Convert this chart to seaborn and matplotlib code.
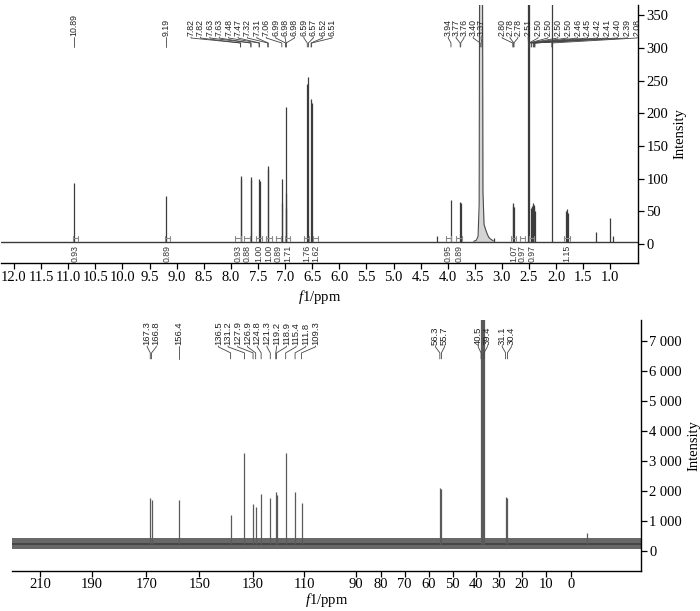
import numpy as np
import pandas as pd
import seaborn as sns
import matplotlib
matplotlib.use("Agg")
import matplotlib.pyplot as plt
from matplotlib.transforms import blended_transform_factory

# ---------------- 1H NMR ----------------
h_peak_ppm = [10.89, 9.19, 7.82, 7.815, 7.63, 7.625, 7.48, 7.47, 7.32, 7.31,
              7.065, 7.055, 6.99, 6.98, 6.975, 6.59, 6.57, 6.52, 6.51,
              4.20, 3.94, 3.77, 3.76, 3.15, 2.80, 2.79, 2.78,
              2.51, 2.50, 2.46, 2.45, 2.42, 2.41, 2.40, 2.39, 2.08,
              1.82, 1.80, 1.78, 1.27, 1.00, 0.95]
h_peak_int = [93, 73, 104, 100, 102, 98, 99, 96, 119, 115,
              100, 62, 78, 209, 55, 245, 255, 222, 215,
              12, 67, 65, 63, 9, 58, 62, 57,
              600, 600, 55, 58, 62, 60, 56, 50, 600,
              50, 54, 48, 18, 40, 12]
h_baseline = 3
water_ppm = [3.52, 3.47, 3.44, 3.42, 3.41, 3.40, 3.38, 3.36, 3.35, 3.33, 3.30, 3.27, 3.24, 3.20, 3.16]
water_int = [4, 6, 12, 60, 500, 600, 600, 500, 80, 30, 22, 15, 10, 7, 5]

h_label_groups = [["10.89"], ["9.19"],
                  ["7.82", "7.82", "7.63", "7.63", "7.48", "7.47", "7.32", "7.31",
                   "7.06", "6.99", "6.98", "6.98", "6.59", "6.57", "6.52", "6.51"],
                  ["3.94", "3.77", "3.76"], ["3.40", "3.37"], ["2.80", "2.78", "2.78"],
                  ["2.51", "2.50", "2.50", "2.50", "2.50", "2.46", "2.45", "2.42",
                   "2.41", "2.40", "2.39", "2.08"]]
h_integral_ppm = [10.87, 9.17, 7.87, 7.70, 7.48, 7.30, 7.12, 6.95, 6.60, 6.44,
                  3.99, 3.79, 2.79, 2.62, 2.45, 1.80]
h_integral_val = ["0.93", "0.89", "0.93", "0.88", "1.00", "1.00", "0.89", "1.71", "1.76", "1.62",
                  "0.95", "0.89", "1.07", "0.97", "0.97", "1.15"]
h_ticks = [12.0, 11.5, 11.0, 10.5, 10.0, 9.5, 9.0, 8.5, 8.0, 7.5, 7.0, 6.5, 6.0,
           5.5, 5.0, 4.5, 4.0, 3.5, 3.0, 2.5, 2.0, 1.5, 1.0]
h_yticks = [0, 50, 100, 150, 200, 250, 300, 350]

# ---------------- 13C NMR ----------------
c_peak_ppm = [167.3, 166.8, 156.4, 136.5, 131.2, 127.9, 126.9, 124.8, 121.3, 119.2,
              118.9, 115.4, 111.8, 109.3, 56.3, 55.7,
              40.4, 40.0, 39.6, 39.2, 31.1, 30.4, 0.0]
c_peak_int = [1750, 1700, 1700, 1200, 3250, 1550, 1450, 1900, 1750, 1950,
              1850, 3250, 1950, 1600, 2100, 2050,
              8000, 8000, 8000, 8000, 1800, 1780, 600]
c_noise_low, c_noise_high, c_noise_mid = 60, 420, 230
c_label_groups = [["167.3", "166.8"], ["156.4"],
                  ["136.5", "131.2", "127.9", "126.9", "124.8", "121.3", "119.2",
                   "118.9", "115.4", "111.8", "109.3"],
                  ["56.3", "55.7"], ["40.5", "39.4"], ["31.1", "30.4"]]
c_tick_labels = ["210", "190", "170", "150", "130", "110", "90", "80", "70", "60",
                 "50", "40", "30", "20", "10", "0"]
c_tick_pos = [209.5, 189.6, 168.8, 148.5, 128.1, 108.2, 88.6, 79.0, 69.8, 60.6,
              51.4, 42.5, 33.7, 24.9, 15.7, 6.1]
c_yticks = [0, 1000, 2000, 3000, 4000, 5000, 6000, 7000]
c_ytick_labels = ["0", "1 000", "2 000", "3 000", "4 000", "5 000", "6 000", "7 000"]

# ---------------- style ----------------
sns.set_theme(style="ticks")
plt.rcParams['font.family'] = ['Liberation Serif', 'DejaVu Serif']
plt.rcParams['mathtext.fontset'] = 'custom'
plt.rcParams['mathtext.rm'] = 'Liberation Serif'
plt.rcParams['mathtext.it'] = 'Liberation Serif:italic'
SANS = ['Liberation Sans', 'DejaVu Sans']
TICKFS = 10.5

fig = plt.figure(figsize=(7.0, 6.11), dpi=100)
ax1 = fig.add_axes([1 / 700, 1 - 263 / 611, 637 / 700, 258 / 611])
ax2 = fig.add_axes([12 / 700, 1 - 571 / 611, 629 / 700, 251 / 611])


def style_axes(ax, xpad=3, tickpad=2):
    for s in ['left', 'top']:
        ax.spines[s].set_visible(False)
    for s in ['right', 'bottom']:
        ax.spines[s].set_color('black')
        ax.spines[s].set_linewidth(1.0)
    ax.yaxis.tick_right()
    ax.yaxis.set_label_position('right')
    ax.tick_params(axis='both', direction='out', length=4, width=0.9, color='black',
                   labelsize=TICKFS, labelcolor='black', pad=2)
    ax.tick_params(axis='x', pad=tickpad)
    ax.set_ylabel('Intensity', fontsize=TICKFS, color='black', labelpad=4)
    ax.set_xlabel(r'$\mathit{f}$1/ppm', fontsize=TICKFS, color='black', labelpad=xpad)


def draw_labels(ax, groups, starts, spacings, ys, fs, color='#444444'):
    tr = blended_transform_factory(ax.transData, ax.transAxes)
    yt, y1, y2, y3 = ys
    for labels, start, sp in zip(groups, starts, spacings):
        for i, lab in enumerate(labels):
            xp = float(lab)
            xl = xp if start is None else start - i * sp
            ax.text(xl, yt, lab, rotation=90, ha='center', va='bottom', transform=tr,
                    fontsize=fs, family=SANS, color='#222222', clip_on=False)
            ax.plot([xl, xl, xp, xp], [yt - 0.004, y1, y2, y3], transform=tr,
                    color=color, lw=0.6, clip_on=False)


# ---------------- top: 1H ----------------
h_xlim = (12.24, 0.49)
ax1.set_xlim(*h_xlim)
ax1.set_ylim(-29, 365.5)
sns.lineplot(x=list(h_xlim), y=[h_baseline, h_baseline], ax=ax1, color='#3a3a3a', lw=1.0)
ax1.fill_between(water_ppm, h_baseline, water_int, color='#d4d4d4', lw=0)
sns.lineplot(x=water_ppm, y=water_int, ax=ax1, color='#4a4a4a', lw=0.8, sort=False)
ax1.vlines(h_peak_ppm, h_baseline, h_peak_int, color='#3c3c3c', lw=0.9)

# integrals
for p, v in zip(h_integral_ppm, h_integral_val):
    w = 0.05
    ax1.plot([p + w, p - w], [9, 9], color='#8a8a8a', lw=0.8)
    ax1.plot([p + w, p + w], [5, 13], color='#8a8a8a', lw=0.8)
    ax1.plot([p - w, p - w], [5, 13], color='#8a8a8a', lw=0.8)
    ax1.text(p, -1.5, v, rotation=90, ha='center', va='top', fontsize=6.3,
             family=SANS, color='#333333', clip_on=False)

style_axes(ax1)
ax1.set_xticks(h_ticks, [f"{t:.1f}" for t in h_ticks])
ax1.set_yticks(h_yticks)

h_starts = [None, None, 8.734, 3.99, 3.53, 2.996, 2.517]
h_spacings = [0, 0, 0.1734, 0.145, 0.145, 0.145, 0.1827]
draw_labels(ax1, h_label_groups, h_starts, h_spacings,
            (0.8798, 0.8721, 0.8527, 0.8372), 6.3)

# ---------------- bottom: 13C ----------------
c_xlim = (220.3, -20.8)
ax2.set_xlim(*c_xlim)
ax2.set_ylim(-667, 7700)
ax2.fill_between(list(c_xlim), c_noise_low, c_noise_high, color='#686868', lw=0)
sns.lineplot(x=list(c_xlim), y=[c_noise_mid, c_noise_mid], ax=ax2, color='#404040', lw=1.2)
ax2.vlines(c_peak_ppm, c_noise_mid, c_peak_int, color='#5a5a5a', lw=0.9)

style_axes(ax2, xpad=0, tickpad=1)
ax2.set_xticks(c_tick_pos, c_tick_labels)
ax2.set_yticks(c_yticks, c_ytick_labels)

c_starts = [168.47, None, 141.2, 58.0, 41.6, 32.4]
c_spacings = [3.455, 0, 3.724, 3.5, 3.5, 3.5]
draw_labels(ax2, c_label_groups, c_starts, c_spacings,
            (0.9008, 0.893, 0.869, 0.845), 6.8)

fig.savefig('out.png', dpi=100)
